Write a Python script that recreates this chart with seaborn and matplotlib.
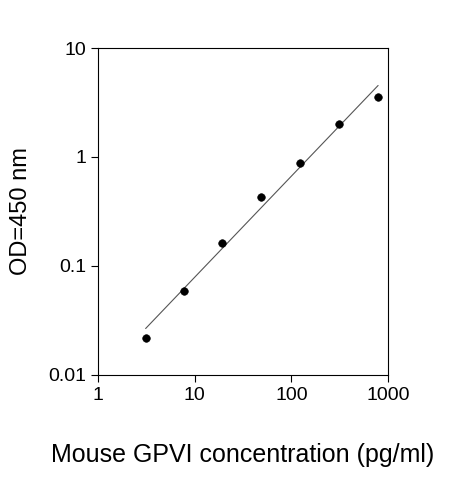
import numpy as np
import matplotlib
matplotlib.use("Agg")
import matplotlib.pyplot as plt
import seaborn as sns

conc = [3.1, 7.7, 19.2, 48.5, 123, 310, 790]
od = [0.022, 0.059, 0.162, 0.43, 0.88, 2.0, 3.55]

sns.set_theme(style="ticks")
plt.rcParams['font.family'] = ['Liberation Sans', 'DejaVu Sans']
plt.rcParams['text.color'] = 'black'
plt.rcParams['axes.labelcolor'] = 'black'

fig = plt.figure(figsize=(4.63, 4.8), dpi=100)
ax = fig.add_axes([0.212, 0.219, 0.626, 0.681])

lx, ly = np.log10(conc), np.log10(od)
m, b = np.polyfit(lx, ly, 1)
xs = np.array([conc[0], conc[-1]])
ax.plot(xs, 10 ** (b + m * np.log10(xs)), color="#555555", lw=0.8)
sns.scatterplot(x=conc, y=od, ax=ax, color="black", s=30, edgecolor="black", zorder=3)

ax.set_xscale("log"); ax.set_yscale("log")
ax.set_xlim(1, 1000); ax.set_ylim(0.01, 10)
ax.set_xticks([1, 10, 100, 1000]); ax.set_xticklabels(["1", "10", "100", "1000"])
ax.set_yticks([0.01, 0.1, 1, 10]); ax.set_yticklabels(["0.01", "0.1", "1", "10"])
ax.minorticks_off()
ax.tick_params(direction="out", length=5, width=0.8, labelsize=14, colors="black")
for s in ax.spines.values():
    s.set_color("black"); s.set_linewidth(0.8)
ax.set_xlabel("Mouse GPVI concentration (pg/ml)", fontsize=18, labelpad=28)
ax.set_ylabel("OD=450 nm", fontsize=17, labelpad=12)
fig.savefig("out.png", dpi=100)
